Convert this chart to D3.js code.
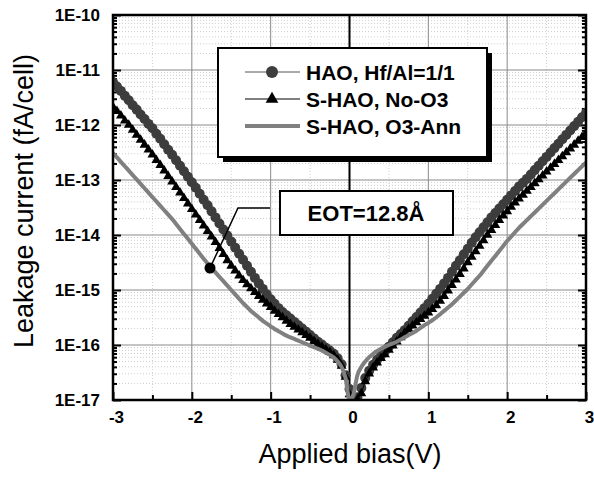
<!DOCTYPE html>
<html>
<head>
<meta charset="utf-8">
<script src="https://cdn.jsdelivr.net/npm/d3@7"></script>
<style>
  body { margin: 0; background: #fff; }
  svg { display: block; font-family: "Liberation Sans", Arial, sans-serif; }
</style>
</head>
<body>
<svg id="chart" width="594" height="478"></svg>
<script>
// bias sweep (V)
const bias = [
  -3.00,-2.95,-2.90,-2.85,-2.80,-2.75,-2.70,-2.65,-2.60,-2.55,
  -2.50,-2.45,-2.40,-2.35,-2.30,-2.25,-2.20,-2.15,-2.10,-2.05,
  -2.00,-1.95,-1.90,-1.85,-1.80,-1.75,-1.70,-1.65,-1.60,-1.55,
  -1.50,-1.45,-1.40,-1.35,-1.30,-1.25,-1.20,-1.15,-1.10,-1.05,
  -1.00,-0.95,-0.90,-0.85,-0.80,-0.75,-0.70,-0.65,-0.60,-0.55,
  -0.50,-0.45,-0.40,-0.35,-0.30,-0.25,-0.20,-0.15,-0.10,-0.05,
   0.00, 0.05, 0.10, 0.15, 0.20, 0.25, 0.30, 0.35, 0.40, 0.45,
   0.50, 0.55, 0.60, 0.65, 0.70, 0.75, 0.80, 0.85, 0.90, 0.95,
   1.00, 1.05, 1.10, 1.15, 1.20, 1.25, 1.30, 1.35, 1.40, 1.45,
   1.50, 1.55, 1.60, 1.65, 1.70, 1.75, 1.80, 1.85, 1.90, 1.95,
   2.00, 2.05, 2.10, 2.15, 2.20, 2.25, 2.30, 2.35, 2.40, 2.45,
   2.50, 2.55, 2.60, 2.65, 2.70, 2.75, 2.80, 2.85, 2.90, 2.95,
   3.00
];

// leakage current, stored as log10 (fA/cell)
const hao_exp = [
  -11.22,-11.30,-11.38,-11.47,-11.55,-11.64,-11.72,-11.81,-11.89,-11.98,
  -12.06,-12.16,-12.25,-12.35,-12.45,-12.54,-12.64,-12.74,-12.84,-12.94,
  -13.04,-13.14,-13.25,-13.36,-13.46,-13.57,-13.68,-13.79,-13.90,-14.01,
  -14.12,-14.23,-14.34,-14.45,-14.56,-14.67,-14.78,-14.88,-14.98,-15.08,
  -15.17,-15.25,-15.33,-15.40,-15.46,-15.52,-15.58,-15.64,-15.70,-15.76,
  -15.82,-15.88,-15.94,-15.99,-16.05,-16.10,-16.16,-16.24,-16.35,-16.55,
  -16.80,-17.00,-16.95,-16.78,-16.60,-16.47,-16.36,-16.27,-16.19,-16.11,
  -16.03,-15.95,-15.87,-15.80,-15.73,-15.65,-15.57,-15.49,-15.41,-15.33,
  -15.25,-15.16,-15.07,-14.98,-14.88,-14.78,-14.67,-14.56,-14.46,-14.35,
  -14.25,-14.14,-14.04,-13.95,-13.86,-13.77,-13.68,-13.60,-13.52,-13.44,
  -13.36,-13.28,-13.20,-13.12,-13.05,-12.98,-12.90,-12.82,-12.74,-12.66,
  -12.58,-12.50,-12.42,-12.34,-12.26,-12.18,-12.10,-12.02,-11.94,-11.86,
  -11.78
];

const no_o3_exp = [
  -11.67,-11.75,-11.83,-11.92,-12.00,-12.09,-12.18,-12.27,-12.36,-12.45,
  -12.54,-12.64,-12.73,-12.83,-12.93,-13.03,-13.13,-13.23,-13.33,-13.43,
  -13.53,-13.63,-13.73,-13.83,-13.93,-14.03,-14.13,-14.24,-14.35,-14.46,
  -14.56,-14.65,-14.74,-14.82,-14.90,-14.97,-15.04,-15.11,-15.18,-15.25,
  -15.31,-15.38,-15.44,-15.50,-15.56,-15.62,-15.67,-15.72,-15.77,-15.82,
  -15.87,-15.93,-15.98,-16.03,-16.08,-16.13,-16.19,-16.27,-16.38,-16.58,
  -16.90,-17.10,-17.00,-16.88,-16.66,-16.52,-16.41,-16.32,-16.24,-16.17,
  -16.09,-16.01,-15.94,-15.86,-15.78,-15.71,-15.65,-15.59,-15.53,-15.47,
  -15.41,-15.35,-15.28,-15.20,-15.11,-15.01,-14.91,-14.81,-14.71,-14.61,
  -14.50,-14.40,-14.30,-14.20,-14.10,-14.00,-13.91,-13.82,-13.73,-13.65,
  -13.57,-13.49,-13.41,-13.34,-13.27,-13.20,-13.13,-13.06,-12.99,-12.92,
  -12.85,-12.78,-12.71,-12.64,-12.57,-12.50,-12.43,-12.36,-12.29,-12.22,
  -12.15
];

const o3_ann_exp = [
  -12.51,-12.59,-12.67,-12.75,-12.83,-12.91,-12.99,-13.07,-13.15,-13.23,
  -13.31,-13.39,-13.47,-13.55,-13.63,-13.71,-13.80,-13.89,-13.98,-14.07,
  -14.16,-14.25,-14.34,-14.43,-14.52,-14.60,-14.68,-14.76,-14.84,-14.92,
  -15.00,-15.08,-15.16,-15.24,-15.31,-15.38,-15.44,-15.50,-15.56,-15.61,
  -15.66,-15.71,-15.75,-15.79,-15.83,-15.86,-15.89,-15.92,-15.95,-15.98,
  -16.01,-16.04,-16.07,-16.10,-16.14,-16.18,-16.23,-16.30,-16.40,-16.60,
  -17.00,-16.90,-16.55,-16.40,-16.30,-16.22,-16.16,-16.11,-16.07,-16.03,
  -16.00,-15.97,-15.94,-15.90,-15.86,-15.82,-15.78,-15.74,-15.69,-15.64,
  -15.60,-15.55,-15.50,-15.44,-15.38,-15.32,-15.26,-15.19,-15.12,-15.05,
  -14.98,-14.90,-14.82,-14.74,-14.65,-14.56,-14.47,-14.38,-14.29,-14.20,
  -14.11,-14.03,-13.95,-13.87,-13.80,-13.73,-13.66,-13.59,-13.52,-13.45,
  -13.38,-13.31,-13.24,-13.17,-13.10,-13.03,-12.96,-12.89,-12.82,-12.75,
  -12.68
];

const x_ticks = [-3, -2, -1, 0, 1, 2, 3];
const x_tick_labels = ["-3", "-2", "-1", "0", "1", "2", "3"];
const x_minor = [-2.5, -1.5, -0.5, 0.5, 1.5, 2.5];
const y_decades = [1e-17, 1e-16, 1e-15, 1e-14, 1e-13, 1e-12, 1e-11, 1e-10];
const y_tick_labels = ["1E-17", "1E-16", "1E-15", "1E-14", "1E-13", "1E-12", "1E-11", "1E-10"];
const legend_labels = ["HAO, Hf/Al=1/1", "S-HAO, No-O3", "S-HAO, O3-Ann"];
const eot_label = "EOT=12.8\u00C5";

const plot = { left: 113, right: 586, top: 15, bottom: 400 };

const x_scale = d3.scaleLinear().domain([-3, 3]).range([plot.left, plot.right]);
const y_scale = d3.scaleLog().domain([1e-17, 1e-10]).range([plot.bottom, plot.top]);

// minor log ticks 2..9 per decade
const y_minor = [];
y_decades.slice(0, -1).forEach(d => {
  for (let m = 2; m <= 9; m++) y_minor.push(d * m);
});

const to_points = exps => bias.map((v, i) => [v, Math.pow(10, exps[i])]);
const hao = to_points(hao_exp);
const no_o3 = to_points(no_o3_exp);
const o3_ann = to_points(o3_ann_exp);

const svg = d3.select("#chart");

svg.append("defs").append("clipPath").attr("id", "plotclip")
  .append("rect")
  .attr("x", plot.left).attr("y", plot.top)
  .attr("width", plot.right - plot.left).attr("height", plot.bottom - plot.top);

// grid
const grid = svg.append("g").attr("class", "grid");
grid.selectAll(".ymin").data(y_minor).enter().append("line")
  .attr("x1", plot.left).attr("x2", plot.right)
  .attr("y1", d => y_scale(d)).attr("y2", d => y_scale(d))
  .attr("stroke", "#cfcfcf").attr("stroke-width", 1).attr("stroke-dasharray", "1,2");
grid.selectAll(".xmin").data(x_minor).enter().append("line")
  .attr("y1", plot.top).attr("y2", plot.bottom)
  .attr("x1", d => x_scale(d)).attr("x2", d => x_scale(d))
  .attr("stroke", "#cfcfcf").attr("stroke-width", 1).attr("stroke-dasharray", "1,2");
grid.selectAll(".ymaj").data(y_decades).enter().append("line")
  .attr("x1", plot.left).attr("x2", plot.right)
  .attr("y1", d => y_scale(d)).attr("y2", d => y_scale(d))
  .attr("stroke", "#8a8a8a").attr("stroke-width", 1);
grid.selectAll(".xmaj").data(x_ticks).enter().append("line")
  .attr("y1", plot.top).attr("y2", plot.bottom)
  .attr("x1", d => x_scale(d)).attr("x2", d => x_scale(d))
  .attr("stroke", d => d === 0 ? "#000" : "#8a8a8a")
  .attr("stroke-width", d => d === 0 ? 2 : 1);

// axes (ticks inward)
const style_axis = g => {
  g.select(".domain").remove();
  g.selectAll(".tick line").attr("stroke", "#000").attr("stroke-width", 2);
  g.selectAll(".tick text")
    .attr("font-family", "'Liberation Sans', Arial, sans-serif")
    .attr("font-weight", "bold").attr("font-size", 17).attr("fill", "#000");
};

svg.append("g").attr("transform", `translate(${plot.left},0)`)
  .call(d3.axisLeft(y_scale).tickValues(y_decades).tickSize(-8).tickPadding(13)
    .tickFormat((d, i) => y_tick_labels[i]))
  .call(style_axis);
svg.append("g").attr("transform", `translate(${plot.left},0)`)
  .call(d3.axisLeft(y_scale).tickValues(y_minor).tickSize(-4).tickFormat(""))
  .call(style_axis);
svg.append("g").attr("transform", `translate(${plot.right},0)`)
  .call(d3.axisRight(y_scale).tickValues(y_decades).tickSize(-8).tickFormat(""))
  .call(style_axis);
svg.append("g").attr("transform", `translate(${plot.right},0)`)
  .call(d3.axisRight(y_scale).tickValues(y_minor).tickSize(-4).tickFormat(""))
  .call(style_axis);
svg.append("g").attr("transform", `translate(0,${plot.bottom})`)
  .call(d3.axisBottom(x_scale).tickValues(x_ticks).tickSize(-8).tickPadding(11)
    .tickFormat((d, i) => x_tick_labels[i]))
  .call(style_axis)
  .selectAll(".tick text").attr("dx", 3);
svg.append("g").attr("transform", `translate(0,${plot.bottom})`)
  .call(d3.axisBottom(x_scale).tickValues(x_minor).tickSize(-5).tickFormat(""))
  .call(style_axis);

// series
const line = d3.line().x(d => x_scale(d[0])).y(d => y_scale(d[1]));
const series = svg.append("g").attr("clip-path", "url(#plotclip)");

series.append("path").datum(hao)
  .attr("d", line).attr("fill", "none").attr("stroke", "#444").attr("stroke-width", 1);
series.selectAll(".hao").data(hao).enter().append("circle")
  .attr("cx", d => x_scale(d[0])).attr("cy", d => y_scale(d[1]))
  .attr("r", 5).attr("fill", "#3d3d3d");

const tri = d3.symbol().type(d3.symbolTriangle).size(42);
series.append("path").datum(no_o3)
  .attr("d", line).attr("fill", "none").attr("stroke", "#000").attr("stroke-width", 1);
series.selectAll(".tri").data(no_o3).enter().append("path")
  .attr("d", tri)
  .attr("transform", d => `translate(${x_scale(d[0])},${y_scale(d[1])})`)
  .attr("fill", "#000");

series.append("path").datum(o3_ann)
  .attr("d", line.curve(d3.curveMonotoneX)).attr("fill", "none")
  .attr("stroke", "#808080").attr("stroke-width", 4);

// frame
svg.append("rect")
  .attr("x", plot.left).attr("y", plot.top)
  .attr("width", plot.right - plot.left).attr("height", plot.bottom - plot.top)
  .attr("fill", "none").attr("stroke", "#000").attr("stroke-width", 2.5);

// axis titles
svg.append("text")
  .attr("transform", `translate(33,201) rotate(-90)`)
  .attr("text-anchor", "middle").attr("font-size", 27)
  .text("Leakage current (fA/cell)");
svg.append("text")
  .attr("x", 350).attr("y", 463)
  .attr("text-anchor", "middle").attr("font-size", 27)
  .text("Applied bias(V)");

// legend
const legend = svg.append("g");
legend.append("rect").attr("x", 223).attr("y", 53).attr("width", 269).attr("height", 109)
  .attr("fill", "#000");
legend.append("rect").attr("x", 218).attr("y", 48).attr("width", 269).attr("height", 109)
  .attr("fill", "#fff").attr("stroke", "#000").attr("stroke-width", 2);
const rows = [72, 99, 126];
legend.append("line").attr("x1", 245).attr("x2", 300).attr("y1", rows[0]).attr("y2", rows[0])
  .attr("stroke", "#555").attr("stroke-width", 1);
legend.append("circle").attr("cx", 272).attr("cy", rows[0]).attr("r", 6).attr("fill", "#3d3d3d");
legend.append("line").attr("x1", 245).attr("x2", 300).attr("y1", rows[1]).attr("y2", rows[1])
  .attr("stroke", "#000").attr("stroke-width", 1);
legend.append("path").attr("d", d3.symbol().type(d3.symbolTriangle).size(70))
  .attr("transform", `translate(272,${rows[1]})`).attr("fill", "#000");
legend.append("line").attr("x1", 245).attr("x2", 300).attr("y1", rows[2]).attr("y2", rows[2])
  .attr("stroke", "#808080").attr("stroke-width", 4);
legend.selectAll(".lbl").data(legend_labels).enter().append("text")
  .attr("x", 306).attr("y", (d, i) => rows[i]).attr("dy", "0.36em")
  .attr("font-size", 21).attr("font-weight", "bold").text(d => d);

// EOT annotation
const note = svg.append("g");
note.append("path").attr("d", "M270,208H238L210,268")
  .attr("fill", "none").attr("stroke", "#000").attr("stroke-width", 1.5);
note.append("circle").attr("cx", 210).attr("cy", 268).attr("r", 5.5).attr("fill", "#000");
note.append("rect").attr("x", 280).attr("y", 191).attr("width", 173).attr("height", 44)
  .attr("fill", "#fff").attr("stroke", "#000").attr("stroke-width", 2);
note.append("text").attr("x", 366).attr("y", 213).attr("dy", "0.36em")
  .attr("text-anchor", "middle").attr("font-size", 22).attr("font-weight", "bold")
  .text(eot_label);
</script>
</body>
</html>
